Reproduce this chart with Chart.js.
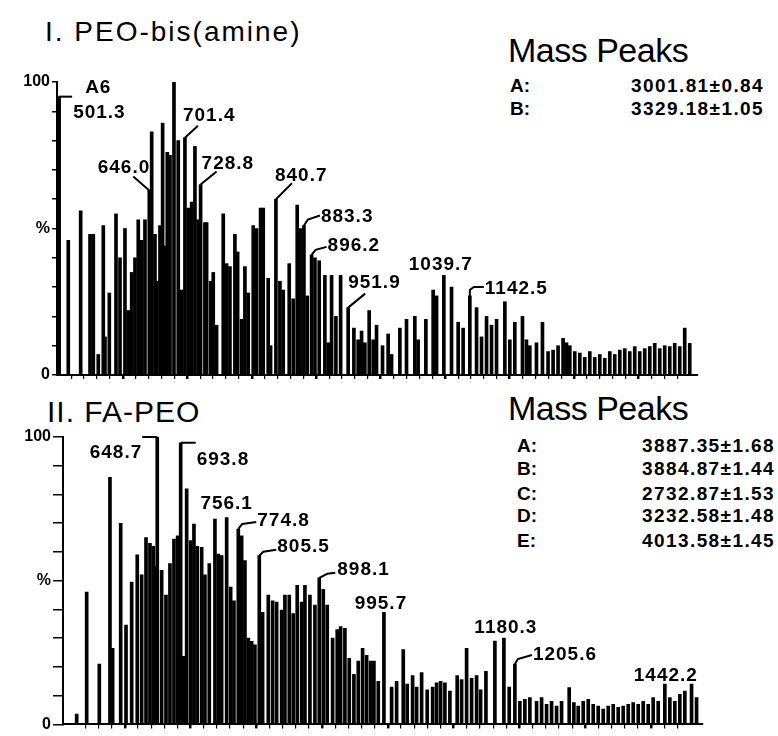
<!DOCTYPE html>
<html>
<head>
<meta charset="utf-8">
<script src="https://cdn.jsdelivr.net/npm/chart.js@4.4.1/dist/chart.umd.min.js"></script>
<style>
  body { margin: 0; background: #fff; width: 778px; height: 736px; overflow: hidden; position: relative; font-family: "Liberation Sans", Arial, sans-serif; color: #000; }
  canvas { position: absolute; left: 0; }
  .t { position: absolute; line-height: 1; white-space: nowrap; }
  .title { font-size: 28px; letter-spacing: 2px; }
  .mp { font-size: 34px; letter-spacing: -0.5px; }
  .item { font-size: 19px; font-weight: bold; }
  .val { font-size: 19px; font-weight: bold; letter-spacing: 1.4px; text-align: right; width: 180px; }
</style>
</head>
<body>
<div class="t title" style="left:45px; top:18px;">I. PEO-bis(amine)</div>
<div class="t title" style="left:47px; top:397px; font-size:30px; letter-spacing:1px;">II. FA-PEO</div>
<div class="t mp" style="left:508px; top:33px;">Mass Peaks</div>
<div class="t mp" style="left:508px; top:391px;">Mass Peaks</div>
<div id="listI"></div>
<div id="listII"></div>
<canvas id="specI" width="720" height="330" style="top:60px;"></canvas>
<canvas id="specII" width="720" height="316" style="top:420px;"></canvas>
<script>
// Spectrum I: PEO-bis(amine)  (m/z positions, % intensity)
const mzI = [
  501.3, 515.5, 534.7, 549.2, 554.3, 562.0, 569.8, 572.4, 579.1, 589.5,
  595.7, 603.4, 608.5, 613.8, 618.9, 624.0, 629.3, 634.4, 641.1, 644.8,
  649.9, 652.6, 657.7, 661.8, 665.4, 669.0, 673.2, 679.4, 686.0, 691.3,
  696.4, 701.5, 706.8, 711.9, 717.0, 720.7, 727.4, 730.0, 736.2, 740.3,
  745.5, 755.8, 761.0, 766.2, 773.9, 778.1, 784.3, 789.4, 794.5, 802.3,
  807.5, 813.7, 817.8, 825.5, 829.2, 837.5, 843.7, 848.8, 858.1, 864.3,
  870.5, 875.7, 880.9, 886.0, 892.8, 898.0, 904.6, 913.4, 918.6, 923.8,
  930.5, 937.8, 949.5, 958.4, 965.0, 970.3, 975.4, 982.1, 988.3, 993.5,
  1002.8, 1011.5, 1016.8, 1029.7, 1040.0, 1052.9, 1058.0, 1070.0, 1081.3, 1086.6,
  1097.9, 1109.8, 1120.1, 1127.8, 1138.2, 1148.6, 1156.3, 1164.1, 1171.8, 1179.6,
  1192.5, 1200.2, 1207.9, 1219.8, 1226.0, 1231.2, 1241.5, 1250.8, 1259.5, 1267.3,
  1275.0, 1282.8, 1288.1, 1293.2, 1300.9, 1308.7, 1316.4, 1324.2, 1331.9, 1339.7,
  1347.4, 1355.2, 1362.9, 1370.7, 1378.4, 1386.2, 1393.9, 1401.7, 1409.4, 1417.2,
  1424.9, 1432.7, 1440.4, 1448.2, 1455.9, 1463.7, 1471.4, 1479.2
];
const intI = [
  95, 46, 56, 48, 48, 7, 51, 13, 28, 55,
  40, 50, 22, 35, 40, 53, 46, 53, 63, 83,
  48, 32, 51, 86, 44, 76, 75, 100, 80, 29,
  81, 57, 59, 78, 53, 65, 52, 52, 32, 35,
  17, 55, 38, 37, 48, 42, 19, 37, 28, 51,
  50, 57, 57, 33, 10, 60, 32, 29, 38, 26,
  58, 50, 51, 27, 41, 40, 39, 34, 11, 34,
  20, 34, 23, 16, 12, 15, 11, 22, 12, 17,
  10, 14, 7, 16, 19, 20, 12, 19, 29, 27,
  34, 30, 18, 16, 27, 23, 13, 20, 17, 19,
  25, 12, 18, 20, 12, 10, 11, 18, 8, 8.5,
  10, 12.5, 11, 10, 8, 7.5, 6, 8, 6, 7,
  5.7, 8, 7, 8.5, 9, 8, 9.7, 8, 9, 9.7,
  10.8, 9, 10, 9.7, 10.8, 9.7, 16, 10.8
];
const labelTextI = [['A6', '501.3'], ['646.0'], ['701.4'], ['728.8'], ['840.7'], ['883.3'], ['896.2'], ['951.9'], ['1039.7'], ['1142.5']];
const labelPeakI = [501.3, 641.1, 696.4, 720.7, 837.5, 880.9, 892.8, 949.5, 1097.9, 1138.2];
const peakNamesI = ['A:', 'B:'];
const peakMassI = ['3001.81±0.84', '3329.18±1.05'];

// Spectrum II: FA-PEO
const mzII = [
  526.8, 542.0, 561.2, 577.4, 581.5, 593.7, 601.8, 610.4, 618.9, 625.6,
  632.2, 638.2, 643.3, 647.4, 649.3, 656.0, 662.6, 668.6, 674.7, 680.3,
  684.9, 688.9, 694.0, 700.1, 705.1, 710.1, 716.8, 721.8, 728.4, 737.0,
  742.1, 747.2, 754.8, 760.9, 765.9, 772.5, 777.6, 782.6, 787.7, 792.8,
  797.8, 804.4, 809.5, 818.1, 824.7, 830.8, 838.4, 843.4, 850.0, 856.0,
  862.1, 868.8, 873.8, 881.4, 889.0, 895.6, 901.7, 907.7, 915.9, 922.9,
  928.1, 934.6, 941.2, 948.3, 954.9, 961.5, 967.6, 973.7, 978.7, 985.3,
  993.9, 1005.6, 1013.2, 1023.3, 1029.3, 1037.5, 1043.6, 1051.2, 1059.7, 1068.0,
  1074.0, 1080.1, 1086.6, 1094.2, 1105.3, 1112.0, 1119.6, 1127.2, 1134.8, 1140.9,
  1149.0, 1162.6, 1176.3, 1184.4, 1193.0, 1200.6, 1208.2, 1215.8, 1226.0, 1233.6,
  1241.2, 1248.8, 1256.4, 1264.0, 1275.6, 1282.7, 1289.3, 1296.9, 1304.5, 1312.1,
  1319.7, 1327.3, 1334.9, 1342.5, 1350.1, 1357.7, 1365.3, 1372.9, 1380.5, 1388.1,
  1395.7, 1403.3, 1410.9, 1421.0, 1428.6, 1436.2, 1443.8, 1451.4, 1461.6, 1469.2
];
const intII = [
  3.6, 46, 21, 86, 26.5, 70, 34.6, 49.5, 59, 52,
  65, 63, 62, 55, 100, 53.6, 45, 56, 64.5, 65.6,
  98, 23.7, 82, 64, 69.7, 62, 61.6, 52, 56, 71.4,
  59.3, 58.7, 72, 47.8, 43, 68, 65.6, 57, 30, 28.9,
  27.7, 58.7, 39, 45, 43, 42.6, 39.8, 45, 45, 38.6,
  48.4, 42.6, 48.4, 45, 41.5, 51, 47, 41.5, 30, 33,
  34, 33.4, 23, 17.4, 22, 26.5, 24, 22, 22, 15,
  39, 13, 15, 26, 14, 17, 13, 18, 12, 13,
  14.5, 15, 14.5, 11.6, 17, 15.6, 26.5, 16, 17, 12,
  18.5, 29, 30, 13, 21, 8, 8.7, 9.3, 8, 9.3,
  7, 8, 6.4, 8, 12.8, 7.6, 6.4, 8, 8.7, 7,
  6.4, 5.3, 6.4, 7, 5.9, 6.4, 7, 7.6, 7, 8,
  7, 9.3, 8, 14, 9.3, 8, 10.5, 11.6, 14, 9.3
];
const labelTextII = [['648.7'], ['693.8'], ['756.1'], ['774.8'], ['805.5'], ['898.1'], ['995.7'], ['1180.3'], ['1205.6'], ['1442.2']];
const labelPeakII = [649.3, 684.9, 754.8, 772.5, 804.4, 895.6, 993.9, 1176.3, 1193.0, 1421.0];
const peakNamesII = ['A:', 'B:', 'C:', 'D:', 'E:'];
const peakMassII = ['3887.35±1.68', '3884.87±1.44', '2732.87±1.53', '3232.58±1.48', '4013.58±1.45'];

// label placement relative to the top of the labelled peak (pixels)
const placeI = [
  { pos: [[26, -4], [14, 21]], align: 'left', lead: [[0, 0], [13, 0]] },
  { pos: [[1, -17]], align: 'right', lead: [[0, 0], [-16, -14]] },
  { pos: [[-2, -17]], align: 'left', lead: [[0, 0], [13, -12]] },
  { pos: [[1, -16]], align: 'left', lead: [[0, 0], [16, -13]] },
  { pos: [[-1, -18]], align: 'left', lead: [[0, 0], [16, -16]] },
  { pos: [[17, -4]], align: 'left', lead: [[0, 0], [4, -6], [16, -10]] },
  { pos: [[16, -4]], align: 'left', lead: [[0, 0], [4, -5], [15, -8]] },
  { pos: [[0, -20]], align: 'left', lead: [[0, 0], [17, -14]] },
  { pos: [[-3, -5]], align: 'center', lead: null },
  { pos: [[15, -2]], align: 'left', lead: [[0, 0], [0, -6], [4, -9], [14, -9]] }
];
const placeII = [
  { pos: [[-15, 21]], align: 'right', lead: [[0, 0], [-15, 0]] },
  { pos: [[16, 22]], align: 'left', lead: [[0, 0], [15, 0]] },
  { pos: [[0, -8]], align: 'center', lead: null },
  { pos: [[19, -3]], align: 'left', lead: [[0, 0], [4, -5], [18, -7]] },
  { pos: [[18, -4]], align: 'left', lead: [[0, 0], [4, -4], [17, -6]] },
  { pos: [[18, -3]], align: 'left', lead: [[0, 0], [8, -4], [16, -5]] },
  { pos: [[-3, -3]], align: 'center', lead: null },
  { pos: [[2, -5]], align: 'center', lead: null },
  { pos: [[18, -4]], align: 'left', lead: [[0, 0], [3, -5], [17, -9]] },
  { pos: [[1, -3]], align: 'center', lead: null }
];

function addList(id, names, masses, left, valRight, tops) {
  const box = document.getElementById(id);
  names.forEach((n, i) => {
    const a = document.createElement('div');
    a.className = 't item';
    a.style.left = left + 'px';
    a.style.top = tops[i] + 'px';
    a.textContent = n;
    box.appendChild(a);
    const v = document.createElement('div');
    v.className = 't val';
    v.style.left = (valRight - 180) + 'px';
    v.style.top = tops[i] + 'px';
    v.textContent = masses[i];
    box.appendChild(v);
  });
}
addList('listI', peakNamesI, peakMassI, 510, 764, [76, 99]);
addList('listII', peakNamesII, peakMassII, 517, 775, [436, 459, 484, 506, 531]);

const peakLabels = {
  id: 'peakLabels',
  afterDatasetsDraw(chart, args, opts) {
    const ctx = chart.ctx;
    const xs = chart.scales.x, ys = chart.scales.y;
    const pts = chart.data.datasets[0].data;
    ctx.save();
    ctx.fillStyle = '#000';
    ctx.strokeStyle = '#000';
    ctx.lineWidth = 2;
    ctx.font = 'bold 19px "Liberation Sans", Arial, sans-serif';
    ctx.letterSpacing = '1px';
    ctx.textBaseline = 'alphabetic';
    opts.peaks.forEach((m, i) => {
      const p = pts.find(d => d.x === m);
      const px = xs.getPixelForValue(p.x);
      const py = ys.getPixelForValue(p.y);
      const pl = opts.place[i];
      if (pl.lead) {
        ctx.beginPath();
        pl.lead.forEach(([dx, dy], k) => k ? ctx.lineTo(px + dx, py + dy) : ctx.moveTo(px + dx, py + dy));
        ctx.stroke();
      }
      ctx.textAlign = pl.align;
      opts.texts[i].forEach((s, k) => ctx.fillText(s, px + pl.pos[k][0], py + pl.pos[k][1]));
    });
    ctx.restore();
  }
};

function spectrum(id, mz, inten, xmin, xmax, pad, yWidth, xHeight, yTick, texts, peaks, place) {
  return new Chart(document.getElementById(id), {
    type: 'bar',
    data: {
      datasets: [{
        data: mz.map((m, i) => ({ x: m, y: inten[i] })),
        backgroundColor: '#000',
        borderWidth: 0,
        barThickness: 3
      }]
    },
    options: {
      responsive: false,
      animation: false,
      layout: { padding: pad },
      plugins: {
        legend: { display: false },
        tooltip: { enabled: false },
        peakLabels: { texts: texts, peaks: peaks, place: place }
      },
      scales: {
        x: {
          type: 'linear', min: xmin, max: xmax, offset: false,
          afterBuildTicks: s => { s.ticks = s.ticks.filter(t => Math.round(t.value) % 20 === 0); },
          afterFit: s => { s.height = xHeight; },
          ticks: { display: false, stepSize: 20 },
          grid: { offset: false, drawOnChartArea: false, tickLength: 4, color: '#000',
                  lineWidth: c => (c.tick && Math.round(c.tick.value) % 100 === 0) ? 2.5 : 1.2 },
          border: { color: '#000', width: 2 }
        },
        y: {
          min: 0, max: 100,
          afterFit: s => { s.width = yWidth; },
          ticks: {
            stepSize: 10, padding: 2, color: '#000',
            font: { family: '"Liberation Sans", Arial, sans-serif', size: 16, weight: 'bold' },
            callback: v => v === 100 ? '100' : v === 50 ? '%' : v === 0 ? '0' : ''
          },
          grid: { drawOnChartArea: false, tickLength: yTick, color: '#000', lineWidth: 1.5 },
          border: { color: '#000', width: 2 }
        }
      }
    },
    plugins: [peakLabels]
  });
}

spectrum('specI', mzI, intI, 498, 1492, { top: 22, right: 22, left: 0, bottom: 0 }, 57, 15, 5, labelTextI, labelPeakI, placeI);
spectrum('specII', mzII, intII, 506, 1479, { top: 17, right: 17, left: 0, bottom: 0 }, 63, 9, 10, labelTextII, labelPeakII, placeII);
</script>
</body>
</html>
